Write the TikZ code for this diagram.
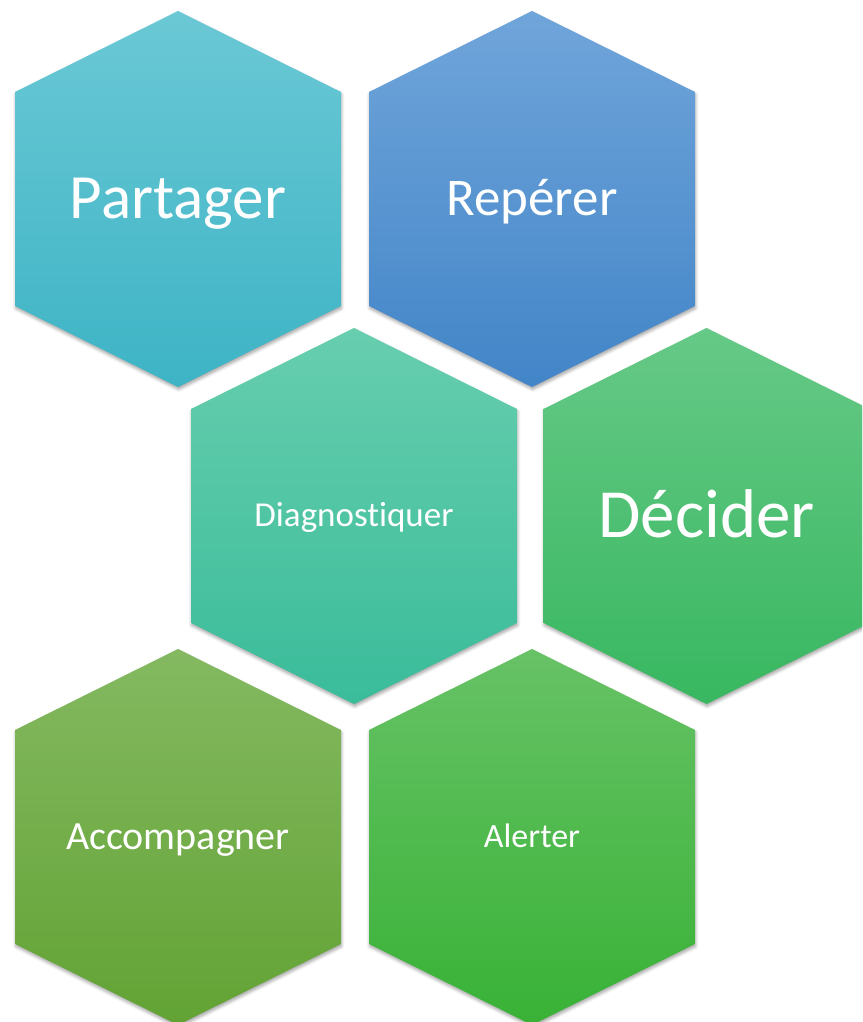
\documentclass[tikz,border=0pt]{standalone}
\usepackage{fontspec}
\setmainfont{Carlito}[Ligatures=NoCommon, RawFeature={-calt;-clig;-liga}]
\usepackage{xcolor}
\usetikzlibrary{calc,shadows.blur}
\definecolor{partager-haut}{HTML}{6BC8D5}
\definecolor{partager-bas}{HTML}{3DB4C5}
\definecolor{reperer-haut}{HTML}{70A5DA}
\definecolor{reperer-bas}{HTML}{4285C8}
\definecolor{diagnostiquer-haut}{HTML}{67CEAE}
\definecolor{diagnostiquer-bas}{HTML}{3ABC9A}
\definecolor{decider-haut}{HTML}{66C987}
\definecolor{decider-bas}{HTML}{38B760}
\definecolor{accompagner-haut}{HTML}{84B961}
\definecolor{accompagner-bas}{HTML}{62A334}
\definecolor{alerter-haut}{HTML}{67C266}
\definecolor{alerter-bas}{HTML}{38B236}
\tikzset{
	hexa/.style={
			draw=none,
			blur shadow={shadow xshift=0.6pt, shadow yshift=-2.5pt, shadow blur radius=3pt, shadow opacity=35}
		},
	etiquette/.style={text=white, anchor=base, inner sep=0pt}
}

\begin{document}
\begin{tikzpicture}[x=1pt,y=1pt]
        \useasboundingbox (0,0) rectangle (862,1022);
        \clip (0,0) rectangle (862,1022);

        % Hexagons and their verbs
        \foreach \nom/\x/\y/\taille/\cap/\texte in {
                partager/178/823/63/20/Partager,
                reperer/532/823/53/16.7/Repérer,
                diagnostiquer/354/506/35/11/Diagnostiquer,
                decider/706.5/506/69/21.8/Décider,
                accompagner/178/185/40/12.6/Accompagner,
                alerter/532/185/34/10.7/Alerter} {
            \coordinate (c-\nom) at (\x,\y);
            \shade[hexa, top color=\nom-haut, bottom color=\nom-bas]
                ($(c-\nom)+(0,188)$) -- ++(163,-81) -- ++(0,-214) -- ++(-163,-81)
                -- ++(-163,81) -- ++(0,214) -- cycle;
            \node[etiquette, font=\fontsize{\taille}{\taille}\selectfont] (\nom) at ([yshift=-\cap pt]c-\nom) {\texte};
        }

    \end{tikzpicture}
\end{document}
